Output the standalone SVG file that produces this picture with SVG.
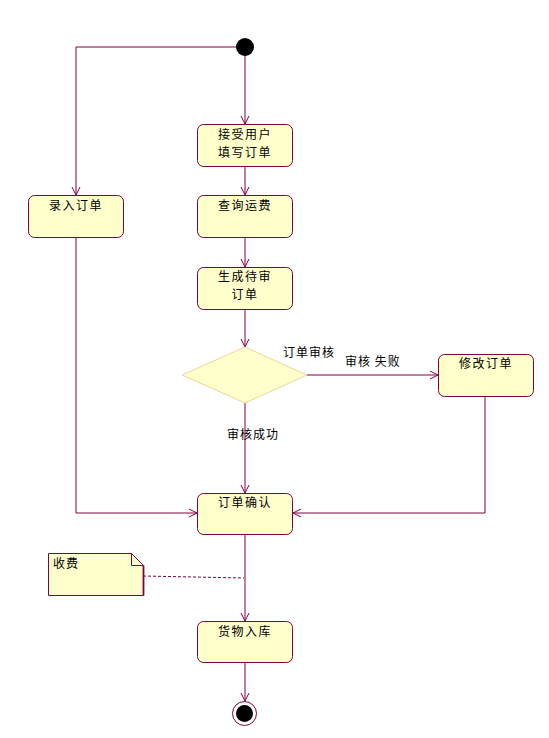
<svg xmlns="http://www.w3.org/2000/svg" width="549" height="738" viewBox="0 0 549 738">
<style>
.node{fill:#FFFFCC;stroke:#800040;stroke-width:1}
.t{font-family:"Noto Sans CJK SC","Liberation Sans",sans-serif;font-size:12px;fill:#000;text-anchor:middle;letter-spacing:1.5px}
.lbl{font-family:"Noto Sans CJK SC","Liberation Sans",sans-serif;font-size:12px;fill:#000;letter-spacing:1px}
.c{fill:none;stroke:#800040;stroke-width:1}
</style>
<defs>
<marker id="a" markerWidth="10" markerHeight="10" refX="9" refY="5" orient="auto" markerUnits="userSpaceOnUse">
<path d="M1,1 L9,5 L1,9" fill="none" stroke="#800040" stroke-width="1"/>
</marker>
</defs>
<rect width="549" height="738" fill="#fff"/>
<g id="connectors">
<path class="c" d="M245,47 V124" marker-end="url(#a)"/>
<path class="c" d="M237,47 H76 V195" marker-end="url(#a)"/>
<path class="c" d="M245,166 V195" marker-end="url(#a)"/>
<path class="c" d="M245,237 V267" marker-end="url(#a)"/>
<path class="c" d="M245,309 V347" marker-end="url(#a)"/>
<path class="c" d="M307,375 H438" marker-end="url(#a)"/>
<path class="c" d="M245,403 V493" marker-end="url(#a)"/>
<path class="c" d="M76,237 V513 H197" marker-end="url(#a)"/>
<path class="c" d="M485,396 V513 H293" marker-end="url(#a)"/>
<path class="c" d="M245,534 V621" marker-end="url(#a)"/>
<path class="c" d="M245,662 V701" marker-end="url(#a)"/>
<path d="M143,576 L244,578" fill="none" stroke="#800040" stroke-width="1" stroke-dasharray="3,2"/>
<text class="lbl" x="283" y="357">订单审核</text>
<text class="lbl" x="345" y="366">审核 失败</text>
<text class="lbl" x="227" y="439">审核成功</text>
</g>
<g id="start"><circle cx="245" cy="47" r="9" fill="#000"/></g>
<g id="n1">
<rect class="node" x="197.5" y="124.5" width="95" height="42" rx="6"/>
<text class="t" x="245" y="138.5">接受用户</text>
<text class="t" x="245" y="156.5">填写订单</text>
</g>
<g id="n2">
<rect class="node" x="28.5" y="195.5" width="95" height="42" rx="6"/>
<text class="t" x="76" y="210">录入订单</text>
</g>
<g id="n3">
<rect class="node" x="197.5" y="195.5" width="95" height="42" rx="6"/>
<text class="t" x="245" y="210">查询运费</text>
</g>
<g id="n4">
<rect class="node" x="197.5" y="267.5" width="95" height="42" rx="6"/>
<text class="t" x="245" y="281">生成待审</text>
<text class="t" x="245" y="299">订单</text>
</g>
<g id="decision">
<polygon points="245,347 307,375 245,403 182,375" fill="#FFFFCC" stroke="#E8D89C" stroke-width="1"/>
</g>
<g id="n5">
<rect class="node" x="438.5" y="354.5" width="95" height="42" rx="6"/>
<text class="t" x="486" y="368">修改订单</text>
</g>
<g id="n6">
<rect class="node" x="197.5" y="493.5" width="95" height="41" rx="6"/>
<text class="t" x="245" y="507">订单确认</text>
</g>
<g id="note">
<path d="M48.5,553.5 H131.5 L143.5,565.5 V595.5 H48.5 Z" fill="#FFFFCC" stroke="#800040" stroke-width="1"/>
<path d="M131.5,553.5 V565.5 H143.5" fill="none" stroke="#800040" stroke-width="1"/>
<path d="M143.5,565.5 V595.5" fill="none" stroke="#800040" stroke-width="1.8"/>
<text class="lbl" x="53" y="568">收费</text>
</g>
<g id="n7">
<rect class="node" x="197.5" y="621.5" width="95" height="41" rx="6"/>
<text class="t" x="245" y="636">货物入库</text>
</g>
<g id="end">
<circle cx="244.5" cy="713.5" r="12" fill="#fff" stroke="#800040" stroke-width="1"/>
<circle cx="244.5" cy="713.5" r="8.5" fill="#000"/>
</g>
</svg>
